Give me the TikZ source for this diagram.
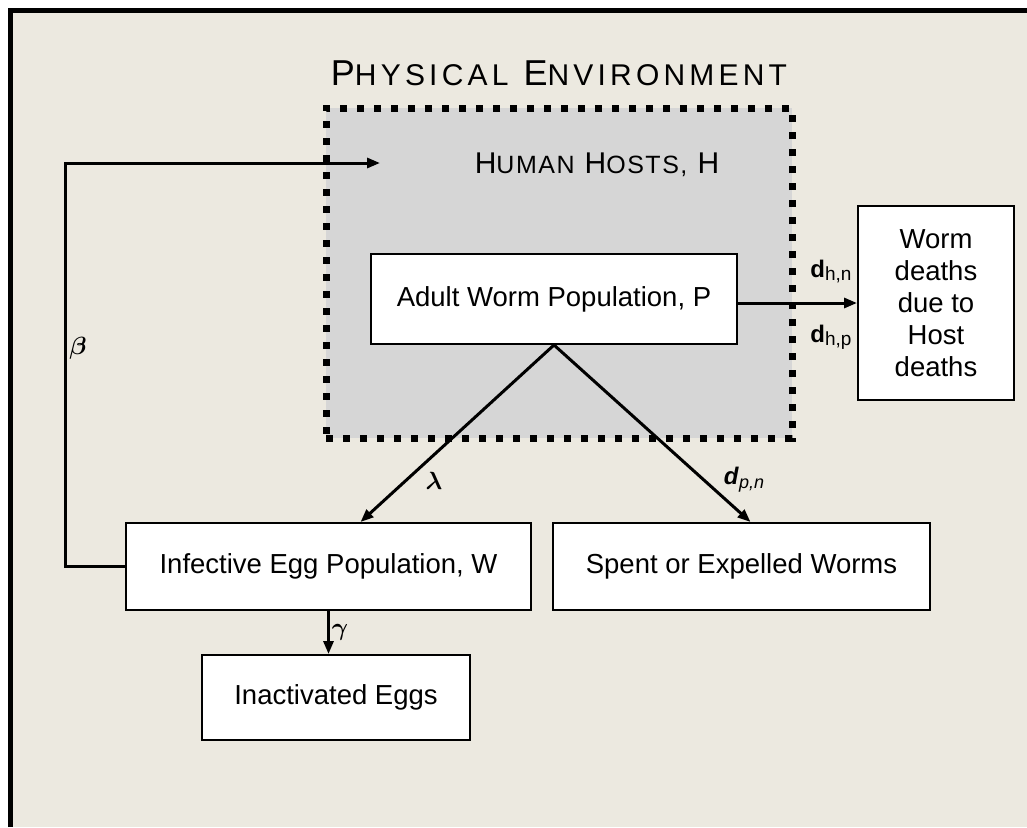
\documentclass[tikz,border=0pt]{standalone}
\usepackage{fontspec}
\usepackage{bm}
\setmainfont{Liberation Sans}
\usetikzlibrary{arrows.meta, positioning}
\definecolor{paper}{RGB}{236,233,224}
\definecolor{hostgray}{RGB}{214,214,214}

\begin{document}
\begin{tikzpicture}[
    x=1pt, y=-1pt,
    box/.style={rectangle, draw=black, line width=2pt, fill=white, inner sep=0pt, font=\fontsize{27.5}{32}\selectfont, align=center},
    flow/.style={-{Triangle[length=13pt,width=10pt]}, line width=3pt},
    rate/.style={font=\fontsize{24}{26}\selectfont}
]
\useasboundingbox (0,0) rectangle (1027,827);
\fill[white] (0,0) rectangle (1027,827);
\fill[paper] (10,10) rectangle (1027,827);
\draw[line width=5pt] (10.5,827) -- (10.5,10) -- (1027,10);

% physical environment and hosts
\node (env) at (559,73) {\addfontfeature{LetterSpace=14}\fontsize{36}{36}\selectfont P{\fontsize{30}{30}\selectfont HYSICAL} E{\fontsize{30}{30}\selectfont NVIRONMENT}};
\node[draw=black, fill=hostgray, line width=7pt, dash pattern=on 7pt off 10pt, minimum width=466pt, minimum height=330pt, inner sep=0pt] (hosts) at (559,273) {};
\node (hostlbl) at (597,165) {\addfontfeature{LetterSpace=6}\fontsize{30}{30}\selectfont H{\fontsize{25}{25}\selectfont UMAN} H{\fontsize{25}{25}\selectfont OSTS,} H};

% compartments
\node[box, minimum width=366pt, minimum height=90pt] (adult) at (554,299) {Adult Worm Population, P};
\node[box, minimum width=156pt, minimum height=194pt] (wdeaths) at (936,303) {Worm\\deaths\\due to\\Host\\deaths};
\node[box, minimum width=405pt, minimum height=87pt] (eggs) at (328.5,566.5) {Infective Egg Population, W};
\node[box, minimum width=377pt, minimum height=87pt] (spent) at (741.5,566.5) {Spent or Expelled Worms};
\node[box, minimum width=268pt, minimum height=85pt] (inact) at (336,697.5) {Inactivated Eggs};

% flows
\coordinate (loopc) at (65,163);
\coordinate (hostin) at (380,163);
\draw[flow] ([yshift=-4pt]adult.east) -- (wdeaths.west);
\draw[flow] (adult.south) -- ([xshift=32pt]eggs.north);
\draw[flow] (adult.south) -- ([xshift=9pt]spent.north);
\draw[flow] (eggs.south) -- (eggs.south |- inact.north);
\draw[flow] (eggs.west) -| (loopc) -- (hostin);

% rates
\node[rate] (beta) at (78,348) {$\bm{\beta}$};
\node[rate] (lam) at (434,481) {$\bm{\lambda}$};
\node[rate] (gam) at (340,632) {$\bm{\gamma}$};
\node[rate] (dpn) at (744,480) {\textbf{\textit{d}}\raisebox{-4pt}{\fontsize{18}{18}\selectfont\itshape p,n}};
\node[rate] (dhn) at (831,272) {\textbf{d}\raisebox{-3pt}{\fontsize{19}{19}\selectfont h,n}};
\node[rate] (dhp) at (831,337) {\textbf{d}\raisebox{-3pt}{\fontsize{19}{19}\selectfont h,p}};
\end{tikzpicture}
\end{document}
